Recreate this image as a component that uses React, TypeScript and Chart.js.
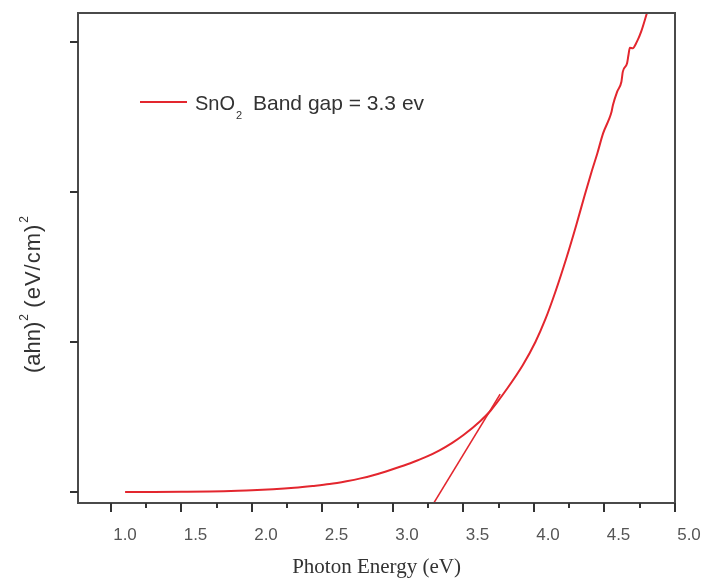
import React, { useEffect, useRef } from "react";
import { Chart, registerables } from "chart.js";

Chart.register(...registerables);

// ---- data ----
const ENERGY = [1.10, 1.30, 1.50, 1.70, 1.85, 2.00, 2.15, 2.30, 2.43, 2.55, 2.67, 2.77, 2.86, 2.95, 3.05, 3.14, 3.23, 3.33, 3.42, 3.50, 3.62, 3.69, 3.81, 3.92, 4.01, 4.08, 4.15, 4.23, 4.30, 4.36, 4.41, 4.45, 4.49, 4.53, 4.55, 4.56, 4.59, 4.62, 4.63, 4.66, 4.67, 4.68, 4.70, 4.73, 4.76, 4.80];
const ABSORPTION = [0, 0, 0.001, 0.003, 0.007, 0.011, 0.018, 0.028, 0.040, 0.053, 0.072, 0.091, 0.112, 0.137, 0.168, 0.198, 0.232, 0.278, 0.328, 0.380, 0.474, 0.540, 0.690, 0.845, 1.000, 1.150, 1.330, 1.560, 1.780, 1.980, 2.140, 2.260, 2.391, 2.480, 2.535, 2.580, 2.669, 2.735, 2.802, 2.858, 2.913, 2.962, 2.958, 3.002, 3.069, 3.19];
const TANGENT_E = [3.29, 3.76];
const TANGENT_V = [-0.073, 0.653];
const X_TICKS = [1.0, 1.5, 2.0, 2.5, 3.0, 3.5, 4.0, 4.5, 5.0];
const X_MINOR = [1.25, 1.75, 2.25, 2.75, 3.25, 3.75, 4.25, 4.75];
const Y_TICKS = [0, 1, 2, 3];
const X_MIN = 0.766;
const X_MAX = 5.0;
const Y_MIN = -0.0733;
const Y_MAX = 3.193;
const LEGEND_LABEL = ["SnO", "2", "Band gap = 3.3 ev"];
const X_TITLE = "Photon Energy (eV)";
const Y_TITLE = ["(ahn)", "2", "(eV/cm)", "2"];

const RED = "#e3262e";
const SANS = "'Liberation Sans', Arial, sans-serif";
const SERIF = "'Liberation Serif', 'Times New Roman', serif";

const decorPlugin = {
  id: "decor",
  afterDraw(chart: any) {
    const { ctx, chartArea: a, scales } = chart;
    const x = scales.x;
    const y = scales.y;
    ctx.save();
    // frame
    ctx.strokeStyle = "#4a4a4a";
    ctx.lineWidth = 2;
    ctx.strokeRect(a.left, a.top, a.right - a.left, a.bottom - a.top);
    // tick marks
    ctx.strokeStyle = "#333";
    ctx.lineWidth = 2;
    ctx.beginPath();
    X_TICKS.forEach((v) => {
      const px = Math.round(x.getPixelForValue(v));
      ctx.moveTo(px, a.bottom);
      ctx.lineTo(px, a.bottom + 9);
    });
    X_MINOR.forEach((v) => {
      const px = Math.round(x.getPixelForValue(v));
      ctx.moveTo(px, a.bottom);
      ctx.lineTo(px, a.bottom + 5);
    });
    Y_TICKS.forEach((v) => {
      const py = Math.round(y.getPixelForValue(v));
      ctx.moveTo(a.left - 8, py);
      ctx.lineTo(a.left, py);
    });
    ctx.stroke();

    // legend
    ctx.strokeStyle = RED;
    ctx.lineWidth = 2;
    ctx.beginPath();
    ctx.moveTo(140, 102);
    ctx.lineTo(187, 102);
    ctx.stroke();
    ctx.fillStyle = "#333";
    ctx.textBaseline = "alphabetic";
    ctx.textAlign = "left";
    ctx.font = `20px ${SANS}`;
    ctx.fillText(LEGEND_LABEL[0], 195, 110);
    const w0 = ctx.measureText(LEGEND_LABEL[0]).width;
    ctx.font = `11px ${SANS}`;
    ctx.fillText(LEGEND_LABEL[1], 195 + w0 + 1, 119);
    ctx.font = `21px ${SANS}`;
    ctx.fillText(LEGEND_LABEL[2], 253, 110);

    // x title
    ctx.fillStyle = "#333";
    ctx.font = `21px ${SERIF}`;
    ctx.textAlign = "center";
    ctx.fillText(X_TITLE, (a.left + a.right) / 2, 573);

    // y title (rotated)
    ctx.translate(40, 373);
    ctx.rotate(-Math.PI / 2);
    ctx.textAlign = "left";
    ctx.font = `22px ${SANS}`;
    ctx.fillText(Y_TITLE[0], 0, 0);
    const w1 = ctx.measureText(Y_TITLE[0]).width;
    ctx.font = `12px ${SANS}`;
    ctx.fillText(Y_TITLE[1], w1 + 1, -12);
    const start2 = w1 + 14;
    ctx.font = `22px ${SANS}`;
    (ctx as any).letterSpacing = "1px";
    ctx.fillText(Y_TITLE[2], start2, 0);
    const w2 = ctx.measureText(Y_TITLE[2]).width;
    (ctx as any).letterSpacing = "0px";
    ctx.font = `12px ${SANS}`;
    ctx.fillText(Y_TITLE[3], start2 + w2 + 1, -12);
    ctx.restore();
  },
};

export default function App() {
  const ref = useRef<HTMLCanvasElement | null>(null);
  useEffect(() => {
    if (!ref.current) return;
    const curve = ENERGY.map((e, i) => ({ x: e, y: ABSORPTION[i] }));
    const tangent = TANGENT_E.map((e, i) => ({ x: e, y: TANGENT_V[i] }));
    const chart = new Chart(ref.current, {
      type: "line",
      data: {
        datasets: [
          {
            data: curve,
            borderColor: RED,
            borderWidth: 2,
            pointRadius: 0,
            tension: 0,
            cubicInterpolationMode: "monotone",
            clip: 1,
          } as any,
          {
            data: tangent,
            borderColor: RED,
            borderWidth: 1.6,
            pointRadius: 0,
            tension: 0,
            clip: 1,
          } as any,
        ],
      },
      options: {
        animation: false,
        responsive: false,
        devicePixelRatio: 1,
        layout: { padding: { top: 13, right: 27, left: 0, bottom: 0 } },
        plugins: { legend: { display: false }, tooltip: { enabled: false } },
        scales: {
          x: {
            type: "linear",
            min: X_MIN,
            max: X_MAX,
            grid: { display: false },
            border: { display: false },
            afterBuildTicks: (s: any) => {
              s.ticks = X_TICKS.map((v) => ({ value: v }));
            },
            afterFit: (s: any) => {
              s.height = 76;
              s.paddingLeft = 0;
              s.paddingRight = 0;
            },
            ticks: {
              maxRotation: 0,
              autoSkip: false,
              padding: 14,
              labelOffset: 14,
              color: "#555",
              font: { family: SANS, size: 17 },
              callback: (v: any) => Number(v).toFixed(1),
            },
          },
          y: {
            type: "linear",
            min: Y_MIN,
            max: Y_MAX,
            grid: { display: false },
            border: { display: false },
            afterBuildTicks: (s: any) => {
              s.ticks = Y_TICKS.map((v) => ({ value: v }));
            },
            afterFit: (s: any) => {
              s.width = 78;
              s.paddingTop = 0;
              s.paddingBottom = 0;
            },
            ticks: { display: false },
          },
        },
      },
      plugins: [decorPlugin],
    });
    return () => chart.destroy();
  }, []);
  return (
    <div style={{ position: "fixed", left: 0, top: 0, width: 702, height: 579, background: "#fff" }}>
      <canvas ref={ref} width={702} height={579} style={{ width: 702, height: 579, display: "block" }} />
    </div>
  );
}
